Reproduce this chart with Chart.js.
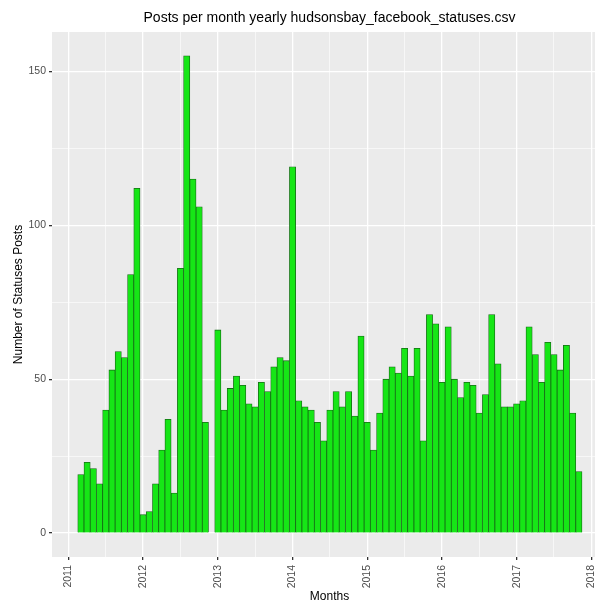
<!DOCTYPE html>
<html>
<head>
<meta charset="utf-8">
<script src="https://cdn.jsdelivr.net/npm/chart.js@4.4.1/dist/chart.umd.min.js"></script>
<style>
  html, body { margin: 0; padding: 0; background: #ffffff; overflow: hidden; }
  #grafica { display: block; }
</style>
</head>
<body>
<canvas id="grafica" width="609" height="608"></canvas>
<script>
// Meses (primer dia de cada mes) y numero de publicaciones; falta 2012-12
const months = [
    '2011-03', '2011-04', '2011-05', '2011-06', '2011-07', '2011-08', '2011-09', '2011-10', '2011-11', '2011-12',
    '2012-01', '2012-02', '2012-03', '2012-04', '2012-05', '2012-06', '2012-07', '2012-08', '2012-09', '2012-10', '2012-11',
    '2013-01', '2013-02', '2013-03', '2013-04', '2013-05', '2013-06', '2013-07', '2013-08', '2013-09', '2013-10', '2013-11', '2013-12',
    '2014-01', '2014-02', '2014-03', '2014-04', '2014-05', '2014-06', '2014-07', '2014-08', '2014-09', '2014-10', '2014-11', '2014-12',
    '2015-01', '2015-02', '2015-03', '2015-04', '2015-05', '2015-06', '2015-07', '2015-08', '2015-09', '2015-10', '2015-11', '2015-12',
    '2016-01', '2016-02', '2016-03', '2016-04', '2016-05', '2016-06', '2016-07', '2016-08', '2016-09', '2016-10', '2016-11', '2016-12',
    '2017-01', '2017-02', '2017-03', '2017-04', '2017-05', '2017-06', '2017-07', '2017-08', '2017-09', '2017-10', '2017-11'
];
const posts = [
    19, 23, 21, 16, 40, 53, 59, 57, 84, 112,
    6, 7, 16, 27, 37, 13, 86, 155, 115, 106, 36,
    66, 40, 47, 51, 48, 42, 41, 49, 46, 54, 57, 56,
    119, 43, 41, 40, 36, 30, 40, 46, 41, 46, 38, 64,
    36, 27, 39, 50, 54, 52, 60, 51, 60, 30, 71, 68,
    49, 67, 50, 44, 49, 48, 39, 45, 71, 55, 41, 41,
    42, 43, 67, 58, 49, 62, 58, 53, 61, 39, 20
];
const yearTicks = [2011, 2012, 2013, 2014, 2015, 2016, 2017, 2018];
const countTicks = [0, 50, 100, 150];

// Convertir 'AAAA-MM' en año decimal
function toYear(m) {
    const [y, mm] = m.split('-');
    return parseInt(y) + (parseInt(mm) - 1) / 12;
}

const puntos = months.map((m, i) => ({ x: toYear(m), y: posts[i] }));

// Fondo gris del panel (estilo ggplot)
const panelFondo = {
    id: 'panelFondo',
    beforeDraw(chart) {
        const { ctx, chartArea: a } = chart;
        ctx.save();
        ctx.fillStyle = '#ebebeb';
        ctx.fillRect(a.left, a.top, a.right - a.left, a.bottom - a.top);
        ctx.restore();
    }
};

const gris = '#4d4d4d';
const fuente = "'Liberation Sans', Arial, Helvetica, sans-serif";

new Chart(document.getElementById('grafica').getContext('2d'), {
    type: 'bar',
    data: {
        datasets: [{
            data: puntos,
            backgroundColor: '#16e616',
            borderColor: '#166a16',
            borderWidth: 0.8,
            barPercentage: 1,
            categoryPercentage: 1
        }]
    },
    options: {
        responsive: false,
        animation: false,
        layout: { padding: 0 },
        plugins: {
            legend: { display: false },
            tooltip: { enabled: false },
            title: {
                display: true,
                fullSize: false,
                text: 'Posts per month yearly hudsonsbay_facebook_statuses.csv',
                color: '#000000',
                font: { family: fuente, size: 14, weight: 'normal' },
                padding: { top: 10, bottom: 5.2 }
            }
        },
        scales: {
            x: {
                type: 'linear',
                offset: false,
                min: 2010.78,
                max: 2018.21,
                afterBuildTicks: scale => {
                    const t = [];
                    for (let v = 2010.5; v <= 2018.01; v += 0.5) t.push({ value: v });
                    scale.ticks = t;
                },
                afterFit: scale => { scale.height = 51; },
                ticks: {
                    autoSkip: false,
                    minRotation: 90,
                    maxRotation: 90,
                    padding: 5,
                    color: gris,
                    font: { family: fuente, size: 10.5 },
                    callback: v => (yearTicks.includes(v) ? String(v) : '')
                },
                grid: {
                    offset: false,
                    color: '#ffffff',
                    lineWidth: c => (c.tick && Number.isInteger(c.tick.value) ? 1.3 : 0.6),
                    tickColor: c => (c.tick && Number.isInteger(c.tick.value) ? '#333333' : 'rgba(0,0,0,0)'),
                    tickLength: 3
                },
                border: { display: false },
                title: {
                    display: true,
                    text: 'Months',
                    color: '#000000',
                    font: { family: fuente, size: 12 },
                    padding: { top: 0, bottom: 4 }
                }
            },
            y: {
                min: -7.75,
                max: 162.75,
                afterBuildTicks: scale => {
                    scale.ticks = [0, 25, 50, 75, 100, 125, 150].map(v => ({ value: v }));
                },
                afterFit: scale => { scale.width = 52; },
                ticks: {
                    padding: 3,
                    color: gris,
                    font: { family: fuente, size: 10.5 },
                    callback: v => (countTicks.includes(v) ? String(v) : '')
                },
                grid: {
                    color: '#ffffff',
                    lineWidth: c => (c.tick && c.tick.value % 50 === 0 ? 1.3 : 0.6),
                    tickColor: c => (c.tick && c.tick.value % 50 === 0 ? '#333333' : 'rgba(0,0,0,0)'),
                    tickLength: 3
                },
                border: { display: false },
                title: {
                    display: true,
                    text: 'Number of Statuses Posts',
                    color: '#000000',
                    font: { family: fuente, size: 12 },
                    padding: { top: 11, bottom: 0 }
                }
            }
        }
    },
    plugins: [panelFondo]
});
</script>
</body>
</html>
